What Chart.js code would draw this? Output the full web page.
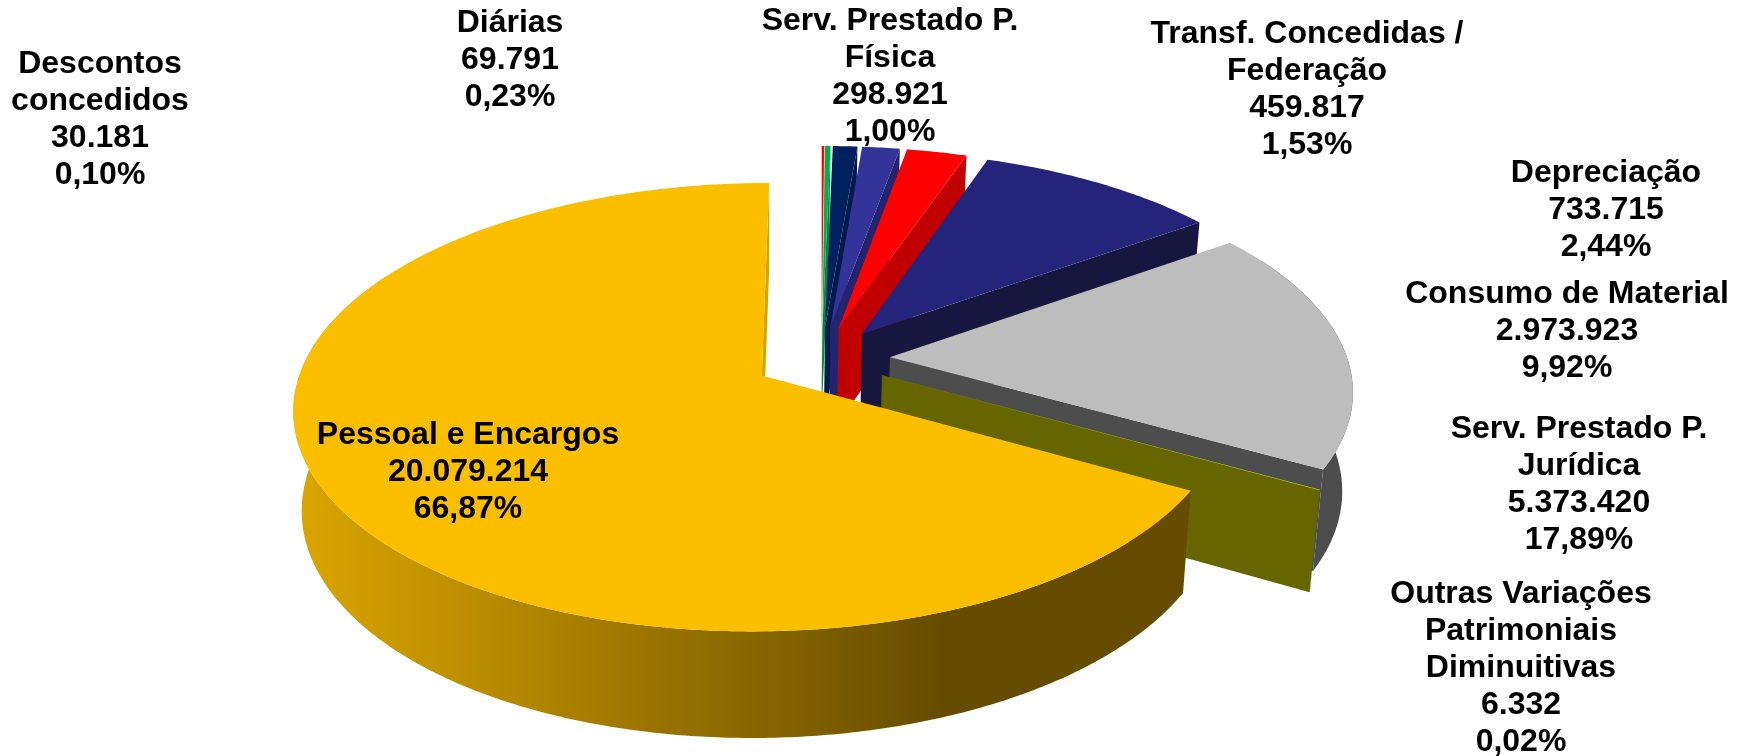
<!DOCTYPE html>
<html>
<head>
<meta charset="utf-8">
<title>Variações Patrimoniais Diminutivas</title>
<script src="https://cdn.jsdelivr.net/npm/chart.js@4"></script>
<style>
    html, body {margin: 0; background: #fff;}
    canvas {display: block;}
</style>
</head>
<body>
<canvas id="pie3d" width="1744" height="756"></canvas>
<script>
const categories = [
    ["Descontos", "concedidos"],
    ["Diárias"],
    ["Serv. Prestado P.", "Física"],
    ["Transf. Concedidas /", "Federação"],
    ["Depreciação"],
    ["Consumo de Material"],
    ["Serv. Prestado P.", "Jurídica"],
    ["Outras Variações", "Patrimoniais", "Diminuitivas"],
    ["Pessoal e Encargos"]
];
const values = [30181, 69791, 298921, 459817, 733715, 2973923, 5373420, 6332, 20079214];
const valueLabels = ["30.181", "69.791", "298.921", "459.817", "733.715", "2.973.923", "5.373.420", "6.332", "20.079.214"];
const percentLabels = ["0,10%", "0,23%", "1,00%", "1,53%", "2,44%", "9,92%", "17,89%", "0,02%", "66,87%"];

const topColors = ["#ff0000", "#00b050", "#002060", "#333399", "#ff0000", "#24247a", "#bdbdbd", "#e6e600", "#fbbf00"];
const sideColors = ["#c00000", "#008a40", "#001a4d", "#24246e", "#c00000", "#16163f", "#4d4d4d", "#666600", "#d9a300"];

// label anchors: centre x, middle of first line
const labelX = [100, 510, 890, 1307, 1606, 1567, 1579, 1521, 468];
const labelY = [64, 23, 21, 34, 173, 294, 429, 594, 435];
const lineHeight = 37;

// fake camera, fitted to the picture
const view = {sx: 1.37, sy: 0.644, depth: 100, persp: 0.14, zPersp: 0.025, vanishX: 760, zShrink: 0.018};

function project(el, ang, rho, z) {
    const mid = (el.startAngle + el.endAngle) / 2;
    const e = el.options.offset / el.outerRadius;
    const X = e * Math.cos(mid) + rho * Math.cos(ang);
    const Y = -(e * Math.sin(mid) + rho * Math.sin(ang));
    const w = 1 + view.persp * Y;
    const x0 = el.x + X * el.outerRadius * view.sx / w;
    return [
        x0 + z * view.zShrink * (view.vanishX - x0),
        el.y + (-Y * el.outerRadius * view.sy + z * view.depth) / (w + view.zPersp * z)
    ];
}

function fillPath(ctx, pts, fill) {
    ctx.beginPath();
    pts.forEach((p, i) => i ? ctx.lineTo(p[0], p[1]) : ctx.moveTo(p[0], p[1]));
    ctx.closePath();
    ctx.fillStyle = fill;
    ctx.fill();
}

function rimPoints(el, from, to, z) {
    const pts = [];
    const steps = Math.max(2, Math.ceil((to - from) / 0.01));
    for (let i = 0; i <= steps; i++) {
        pts.push(project(el, from + (to - from) * i / steps, 1, z));
    }
    return pts;
}

const pie3dPlugin = {
    id: "pie3d",
    beforeDatasetsDraw(chart) {
        const ctx = chart.ctx;
        const arcs = chart.getDatasetMeta(0).data;
        arcs.forEach((el, i) => {
            let side = sideColors[i];
            if (i === arcs.length - 1) {
                const g = ctx.createLinearGradient(291, 0, 1184, 0);
                g.addColorStop(0, "#dca600");
                g.addColorStop(0.73, "#664c00");
                g.addColorStop(1, "#664c00");
                // radial wall stays flat, rim wall gets the shading
                side = g;
            }
            const {startAngle: a0, endAngle: a1} = el;

            // wall along the clockwise edge
            fillPath(ctx, [
                project(el, a1, 0, 0), project(el, a1, 1, 0),
                project(el, a1, 1, 1), project(el, a1, 0, 1)
            ], sideColors[i]);

            // outer wall, front half plus a bit past the silhouette
            const from = Math.max(a0, -0.5);
            const to = Math.min(a1, Math.PI + 0.5);
            if (to > from) {
                const upper = rimPoints(el, from, to, 0);
                const lower = rimPoints(el, from, to, 1).reverse();
                fillPath(ctx, upper.concat(lower), side);
            }

            // top face
            fillPath(ctx, [project(el, a0, 0, 0)].concat(rimPoints(el, a0, a1, 0)), topColors[i]);
        });
        return false;
    },
    afterDraw(chart) {
        const ctx = chart.ctx;
        ctx.save();
        ctx.fillStyle = "#000";
        ctx.font = "bold 32px 'Liberation Sans', Arial, sans-serif";
        ctx.textAlign = "center";
        ctx.textBaseline = "middle";
        categories.forEach((cat, i) => {
            const lines = cat.concat([valueLabels[i], percentLabels[i]]);
            lines.forEach((line, j) => {
                ctx.fillText(line, labelX[i], labelY[i] + j * lineHeight);
            });
        });
        ctx.restore();
    }
};

new Chart(document.getElementById("pie3d"), {
    type: "pie",
    data: {
        labels: categories.map(c => c.join(" ")),
        datasets: [{
            data: values,
            backgroundColor: topColors,
            borderWidth: 0,
            offset: 50
        }]
    },
    options: {
        responsive: false,
        animation: false,
        rotation: 0,
        layout: {padding: {right: 101, bottom: 38}},
        plugins: {
            legend: {display: false},
            tooltip: {enabled: false}
        }
    },
    plugins: [pie3dPlugin]
});
</script>
</body>
</html>
